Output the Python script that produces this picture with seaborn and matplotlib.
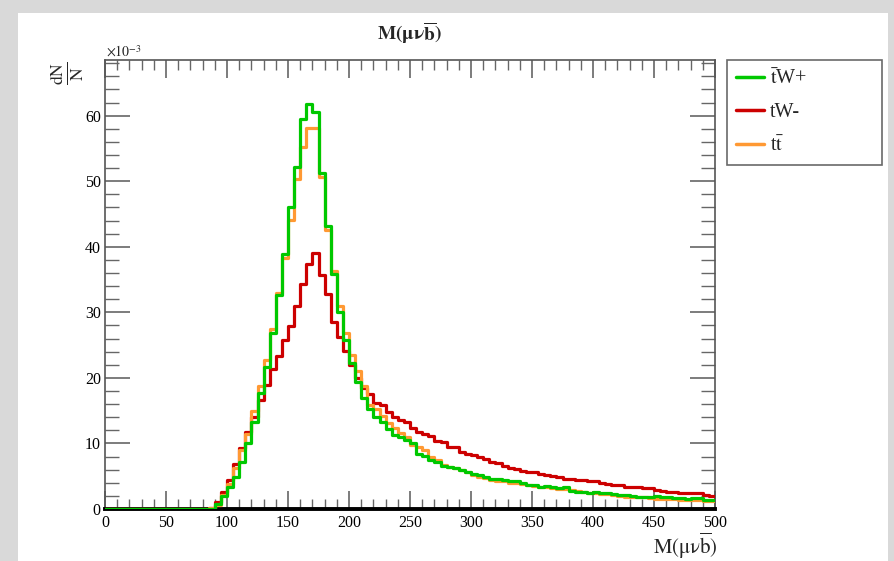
import numpy as np
import pandas as pd
import seaborn as sns
import matplotlib.pyplot as plt
from matplotlib.lines import Line2D
from matplotlib.patches import Rectangle
from matplotlib.ticker import MultipleLocator

# ---------------- data (dN/N per 5-unit bin, in units of 1e-3) ----------------
bin_width = 5
x_min, x_max = 0, 500

tWplus = [0]*18 + [
    0.8, 2.0, 3.3, 4.9, 7.2, 10.0, 13.3, 17.7, 21.6, 26.9,
    32.6, 38.9, 46.0, 52.1, 59.5, 61.8, 60.6, 51.3, 43.1, 35.9,
    30.1, 25.8, 22.2, 19.3, 17.0, 15.2, 14.1, 13.2, 12.2, 11.3,
    11.0, 10.5, 10.0, 8.4, 8.1, 7.5, 7.2, 6.6, 6.35, 6.2,
    5.95, 5.7, 5.35, 5.2, 4.9, 4.55, 4.55, 4.35, 4.2, 4.2,
    3.9, 3.65, 3.65, 3.4, 3.5, 3.3, 3.15, 3.3, 2.8, 2.65,
    2.65, 2.5, 2.65, 2.4, 2.4, 2.3, 2.1, 2.1, 2.0, 1.9,
    1.9, 1.9, 2.0, 1.8, 1.9, 1.65, 1.65, 1.5, 1.65, 1.65,
    1.4, 1.4]

tWminus = [0]*17 + [
    0.2, 1.1, 2.6, 4.5, 6.9, 9.3, 11.8, 14.0, 16.7, 18.9,
    21.4, 23.4, 25.8, 27.9, 30.9, 34.4, 37.4, 39.1, 35.7, 32.8,
    28.6, 26.2, 24.1, 22.0, 20.0, 18.4, 17.5, 16.1, 15.8, 14.8,
    14.1, 13.6, 13.2, 12.3, 11.8, 11.5, 11.1, 10.3, 10.2, 9.5,
    9.5, 8.75, 8.4, 8.2, 8.0, 7.7, 7.2, 7.0, 6.6, 6.2,
    6.1, 5.85, 5.7, 5.7, 5.35, 5.2, 5.05, 4.9, 4.6, 4.55,
    4.4, 4.35, 4.2, 4.2, 3.9, 3.85, 3.65, 3.6, 3.3, 3.4,
    3.3, 3.2, 3.15, 2.9, 2.8, 2.65, 2.65, 2.5, 2.5, 2.4,
    2.4, 2.1, 2.0]

ttbar = [0]*17 + [
    0.1, 0.6, 2.1, 3.8, 6.2, 9.0, 11.5, 15.0, 18.7, 22.7,
    27.5, 33.0, 38.3, 44.1, 50.3, 55.3, 58.2, 58.2, 50.7, 42.6,
    36.3, 30.9, 26.8, 23.5, 21.0, 18.7, 15.9, 15.2, 14.2, 13.1,
    12.3, 11.65, 11.0, 9.8, 9.5, 9.0, 8.0, 7.5, 6.7, 6.35,
    6.2, 6.0, 5.7, 5.2, 4.9, 4.7, 4.4, 4.2, 4.2, 4.0,
    4.0, 3.8, 3.6, 3.5, 3.4, 3.3, 3.2, 3.1, 3.0, 2.9,
    2.7, 2.6, 2.5, 2.4, 2.3, 2.3, 2.2, 2.0, 1.9, 1.9,
    1.8, 1.8, 1.7, 1.6, 1.6, 1.5, 1.5, 1.4, 1.4, 1.3,
    1.3, 1.2, 1.2]

series_names = ["tW+", "tW-", "ttbar"]
series_labels = [r"$\bar{\mathrm{t}}$W+", "tW-", r"t$\bar{\mathrm{t}}$"]
series_values = [tWplus, tWminus, ttbar]
colors = {"tW+": "#00c800", "tW-": "#cc0000", "ttbar": "#ff9933"}

x_ticks = [0, 50, 100, 150, 200, 250, 300, 350, 400, 450, 500]
y_ticks = [0, 10, 20, 30, 40, 50, 60]

# ---------------- figure ----------------
sns.set_theme(style="ticks")
plt.rcParams["font.family"] = ["Liberation Serif", "DejaVu Serif"]
plt.rcParams["mathtext.fontset"] = "stix"

W, H = 894, 561
fig = plt.figure(figsize=(W / 100, H / 100), dpi=100)
fig.patch.set_facecolor("#d9d9d9")
fig.patches.append(Rectangle((18 / W, 0), (888 - 18) / W, 1 - 13 / H,
                             transform=fig.transFigure, facecolor="white",
                             edgecolor="none", zorder=-10))

ax = fig.add_axes([105 / W, 1 - 509 / H, (715 - 105) / W, (509 - 60) / H])
ax.set_zorder(5)
ax.set_facecolor("white")

# step outline: each bin's left edge carries its value; last edge repeats final value
edges = np.arange(x_min, x_max + bin_width, bin_width)
frames = []
for name, vals in zip(series_names, series_values):
    frames.append(pd.DataFrame({"mass": edges,
                                "dNN": list(vals) + [vals[-1]],
                                "sample": name}))
df = pd.concat(frames, ignore_index=True)

for name in ["tW-", "ttbar", "tW+"]:
    sns.lineplot(data=df[df["sample"] == name], x="mass", y="dNN",
                 drawstyle="steps-post", color=colors[name], linewidth=2.3,
                 estimator=None, ax=ax, zorder=3, legend=False)

ax.set_xlim(x_min, x_max)
ax.set_ylim(0, 68.5)
ax.set_xticks(x_ticks)
ax.set_yticks(y_ticks)
ax.xaxis.set_minor_locator(MultipleLocator(10))
ax.yaxis.set_minor_locator(MultipleLocator(2))
ax.tick_params(axis="both", which="both", direction="in", top=True, right=True,
               colors="#666666", labelcolor="black", labelsize=11.5)
ax.tick_params(axis="x", which="major", length=13, width=1.2, pad=4)
ax.tick_params(axis="x", which="minor", length=7, width=1.0)
ax.tick_params(axis="y", which="major", length=18, width=1.2, pad=3)
ax.tick_params(axis="y", which="minor", length=10, width=1.0)
for side in ["left", "top", "right"]:
    ax.spines[side].set_color("#555555")
    ax.spines[side].set_linewidth(1.2)
ax.spines["bottom"].set_color("black")
ax.spines["bottom"].set_linewidth(2.8)
ax.set_xlabel("")
ax.set_ylabel("")

fig.text(410 / W, 1 - 33 / H, r"$\mathbf{M(\mu\nu\overline{b})}$",
         ha="center", va="center", fontsize=14)
fig.text(717 / W, 1 - 546 / H, r"$\mathrm{M(\mu\nu\overline{b})}$",
         ha="right", va="center", fontsize=15)
fig.text(67 / W, 1 - 73 / H, r"$\frac{\mathrm{dN}}{\mathrm{N}}$",
         ha="center", va="center", fontsize=18, rotation=90)
fig.text(106 / W, 1 - 52 / H, r"$\times10^{-3}$", ha="left", va="center",
         fontsize=10)

handles = [Line2D([], [], color=colors[n], lw=2.5) for n in series_names]
leg = fig.legend(handles, series_labels, loc="upper left",
                 bbox_to_anchor=(727 / W, 1 - 158 / H, 155 / W, 98 / H),
                 mode="expand", frameon=True, fancybox=False, fontsize=14.5,
                 handlelength=1.4, handletextpad=0.3, labelspacing=0.72,
                 borderpad=0.45, borderaxespad=0)
leg.get_frame().set_edgecolor("#444444")
leg.get_frame().set_linewidth(1.2)

fig.savefig("out.png", dpi=100, facecolor=fig.get_facecolor())
